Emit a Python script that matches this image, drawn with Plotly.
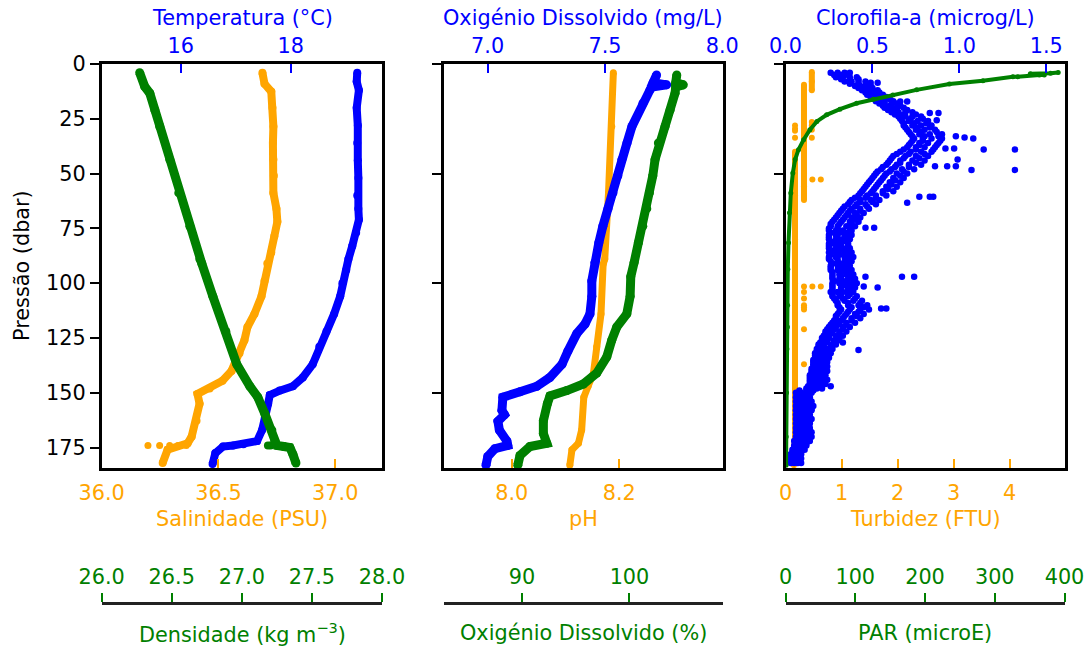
import plotly.graph_objects as go

FONT = "DejaVu Sans"
FS = 20.8
BLUE = "#0000ff"
ORANGE = "#ffa500"
GREEN = "#008000"
INK = "#000000"
W, H = 1092, 650

# ---------------- Panel 1: temperature / salinity / density ----------------
temp_p = [4, 8, 12, 20, 28, 36, 44, 52, 60, 66, 71, 77, 83, 89, 94, 100, 106, 114,
          122, 129, 137, 143, 147, 149, 151, 155, 161, 167, 172, 173.5, 174, 174.5,
          177.5, 182.5]
temp_c = [19.21, 19.20, 19.24, 19.20, 19.22, 19.21, 19.22, 19.23, 19.21, 19.23, 19.24,
          19.19, 19.12, 19.05, 19.01, 18.94, 18.90, 18.79, 18.65, 18.52, 18.40, 18.22,
          18.04, 17.80, 17.62, 17.59, 17.53, 17.48, 17.39, 17.14, 16.95, 16.77, 16.63,
          16.58]

sal_p = [4, 9, 12.6, 20, 28.5, 36, 43.6, 51, 58.8, 66, 72, 78.6, 86, 91, 99, 106, 114,
         120, 126, 132, 140, 144.5, 148, 150.5, 155, 162.7, 170, 173, 176, 182]
sal_psu = [36.688, 36.697, 36.726, 36.731, 36.735, 36.733, 36.735, 36.737, 36.735,
           36.748, 36.752, 36.739, 36.726, 36.709, 36.697, 36.684, 36.654, 36.624,
           36.611, 36.590, 36.556, 36.517, 36.462, 36.410, 36.419, 36.406, 36.385,
           36.368, 36.282, 36.261]
sal_loose_p = [174, 174, 174, 174, 174]
sal_loose = [36.198, 36.248, 36.291, 36.326, 36.362]

dens_p = [4, 10.3, 13.3, 21, 28.5, 43.6, 58.8, 74, 89, 91, 106, 122, 137, 147, 152,
          159.5, 167, 172, 174, 174.5, 175, 178, 182]
dens = [26.271, 26.307, 26.343, 26.379, 26.414, 26.486, 26.550, 26.629, 26.700,
        26.714, 26.793, 26.886, 26.964, 27.057, 27.114, 27.164, 27.214, 27.235,
        27.250, 27.300, 27.343, 27.364, 27.386]
dens_loose_p = [174, 174]
dens_loose = [27.186, 27.205]

# ---------------- Panel 2: dissolved oxygen / pH ----------------
od_p = [5, 8.5, 9.5, 10.5, 11.8, 17.9, 28.5, 36, 43.6, 51, 58.8, 66, 74, 81.5, 90.6,
        99, 106, 114, 118.6, 123, 131, 137, 143, 147, 149.5, 152, 158, 160, 163, 167,
        172, 174, 175.5, 179, 183]
od_mgl = [7.720, 7.705, 7.763, 7.700, 7.692, 7.662, 7.615, 7.594, 7.572, 7.555, 7.534,
          7.513, 7.491, 7.474, 7.457, 7.444, 7.444, 7.436, 7.415, 7.380, 7.342, 7.317,
          7.265, 7.210, 7.138, 7.065, 7.061, 7.072, 7.044, 7.050, 7.082, 7.086, 7.031,
          7.001, 6.993]

ph_p = [4, 28.5, 58.8, 89, 91.4, 114, 129, 141, 147, 152, 167, 173, 176, 183]
ph = [8.189, 8.186, 8.180, 8.173, 8.170, 8.166, 8.158, 8.152, 8.142, 8.134, 8.130,
      8.124, 8.112, 8.108]

odsat_p = [5, 8.5, 9.5, 10.5, 13.3, 21, 28.5, 36, 43.6, 51, 58.8, 66, 74, 81.5, 90.6,
           97, 106, 114, 120, 126, 133.6, 141, 146, 149, 151.4, 155, 162.7, 168.6, 173,
           174.5, 178.6, 183]
odsat = [104.40, 104.30, 105.01, 104.30, 104.24, 103.78, 103.31, 102.69, 102.38,
         102.17, 101.85, 101.61, 101.24, 100.83, 100.43, 100.12, 100.06, 99.75, 98.82,
         98.35, 97.89, 96.96, 95.71, 94.17, 92.61, 92.36, 91.99, 91.99, 92.31, 90.75,
         89.82, 89.61]

# ---------------- Panel 3: chlorophyll / turbidity / PAR ----------------
# pressure, then chlorophyll readings across the cloud at that pressure
chl_rows = [
    (4, .26, .30, .34, .37), (6, .29, .33, .37, .41), (8, .34, .38, .42, .46),
    (10, .40, .43, .46, .49), (12, .44, .47, .50, .53), (14, .47, .50, .53, .56),
    (16, .51, .54, .57, .60), (18, .54, .57, .61, .64), (20, .57, .61, .64, .68),
    (22, .61, .65, .69, .73), (24, .65, .69, .73, .78), (26, .67, .71, .76, .82),
    (28, .68, .73, .78, .84), (30, .70, .75, .80, .86), (32, .72, .77, .83, .90),
    (34, .74, .79, .84, .90), (36, .72, .77, .82, .88), (38, .70, .75, .80, .86),
    (40, .66, .72, .78, .84), (42, .62, .69, .75, .82), (44, .60, .66, .73, .80),
    (46, .58, .64, .71, .78), (48, .55, .61, .67, .74), (50, .52, .58, .64, .70),
    (52, .50, .56, .62, .68), (54, .48, .54, .60, .66), (56, .46, .52, .58, .64),
    (58, .44, .50, .56, .62), (60, .42, .47, .52, .58), (62, .38, .43, .49, .54),
    (64, .36, .41, .46, .52), (66, .33, .38, .43, .48), (68, .31, .36, .40, .45),
    (70, .29, .34, .38, .43), (72, .27, .32, .37, .42), (74, .26, .30, .35, .40),
    (76, .25, .29, .33, .38), (78, .25, .29, .34, .38), (80, .25, .29, .33, .37),
    (82, .25, .28, .32, .36), (84, .25, .29, .33, .37), (86, .25, .29, .34, .38),
    (88, .25, .29, .34, .39), (90, .26, .30, .34, .38), (92, .26, .30, .34, .37),
    (94, .26, .30, .34, .38), (96, .27, .31, .35, .39), (98, .27, .31, .36, .40),
    (100, .27, .31, .36, .41), (102, .27, .32, .36, .40), (104, .26, .30, .35, .39),
    (106, .27, .31, .36, .41), (108, .29, .34, .39, .44), (110, .30, .36, .42, .47),
    (112, .32, .37, .43, .48), (114, .30, .35, .40, .45), (116, .29, .33, .38, .43),
    (118, .27, .31, .35, .40), (120, .25, .29, .33, .37), (122, .23, .27, .31, .35),
    (124, .22, .25, .29, .33), (126, .21, .24, .28, .31), (128, .19, .22, .26, .29),
    (130, .18, .21, .24, .27), (132, .17, .20, .23, .26), (134, .17, .19, .22, .25),
    (136, .16, .19, .22, .24), (138, .16, .18, .21, .24), (140, .15, .18, .21, .24),
    (142, .14, .17, .20, .23), (144, .14, .17, .20, .24), (146, .14, .17, .20, .23),
    (148, .12, .15, .18, .21), (150, .06, .09, .12, .15), (152, .06, .09, .12, .14),
    (154, .06, .09, .12, .15), (156, .06, .09, .12, .16), (158, .06, .09, .12, .15),
    (160, .06, .08, .11, .14), (162, .06, .09, .12, .15), (164, .06, .09, .12, .14),
    (166, .06, .09, .11, .14), (168, .06, .09, .12, .15), (170, .06, .09, .12, .15),
    (172, .05, .08, .11, .14), (174, .05, .07, .10, .12), (176, .04, .06, .08, .11),
    (178, .03, .05, .07, .09), (180, .03, .05, .07, .09), (182, .03, .05, .07, .09),
    (5, .28, .32, .36), (7, .32, .37, .42), (9, .37, .42, .47), (11, .42, .46, .50),
    (13, .46, .50, .54), (15, .49, .53, .58), (17, .52, .57, .62), (19, .56, .60, .66),
    (21, .59, .64, .70), (23, .63, .68, .75), (25, .66, .72, .79), (27, .68, .74, .81),
    (29, .69, .76, .83), (31, .71, .78, .87), (33, .73, .80, .88), (35, .73, .79, .89),
    (37, .71, .77, .87), (39, .68, .75, .85), (41, .64, .71, .80), (43, .61, .68, .77),
    (45, .59, .66, .75), (47, .56, .63, .71), (49, .53, .60, .68), (51, .51, .57, .66),
    (53, .49, .55, .63), (55, .47, .53, .61), (57, .45, .51, .59), (59, .43, .49, .56),
    (61, .40, .46, .52), (63, .37, .43, .50), (65, .34, .40, .47), (67, .32, .37, .43),
    (69, .30, .35, .41), (71, .28, .33, .40), (73, .26, .31, .38), (75, .25, .30, .37),
    (77, .26, .31, .36), (79, .25, .30, .35), (81, .26, .30, .35), (83, .25, .30, .36),
    (85, .26, .31, .36), (87, .26, .31, .37), (89, .25, .30, .36), (91, .27, .31, .36),
    (93, .26, .31, .36), (95, .27, .32, .37), (97, .27, .32, .38), (99, .28, .33, .39),
    (101, .27, .33, .39), (103, .27, .32, .38), (105, .27, .32, .37), (107, .28, .33, .40),
    (109, .30, .36, .43), (111, .31, .38, .45), (113, .31, .36, .42), (115, .29, .34, .41),
    (117, .28, .32, .38), (119, .26, .30, .35), (121, .24, .28, .33), (123, .23, .26, .31),
    (125, .21, .25, .30), (127, .20, .23, .28), (129, .19, .22, .26), (131, .18, .21, .25),
    (133, .17, .20, .24), (135, .16, .19, .23), (137, .16, .19, .23), (139, .15, .19, .22),
    (141, .15, .18, .22), (143, .14, .18, .22), (145, .14, .17, .21), (147, .13, .16, .20),
    (149, .08, .12, .16), (151, .07, .10, .13), (153, .07, .10, .14), (155, .07, .11, .14),
    (157, .07, .10, .15), (159, .07, .10, .13), (161, .07, .10, .13), (163, .07, .10, .14),
    (165, .07, .10, .13), (167, .07, .10, .14), (169, .07, .10, .13), (171, .07, .10, .13),
    (173, .06, .09, .12), (175, .05, .07, .10), (177, .04, .06, .09), (179, .03, .05, .08),
    (181, .04, .06, .08),
]
chl_out_p = [8.6, 8.6, 17.1, 17.1, 22.4, 22.4, 25.7, 33, 33.5, 34, 38.6, 38.6, 39, 39,
             43.6, 46.6, 46.6, 46.6, 48.3, 48.3, 60.6, 60.6, 60.6, 63.3, 74.7, 74.7,
             97, 97, 97, 101.5, 102, 111.5, 111.5, 127, 130.5, 147]
chl_out = [.49, .53, .66, .70, .83, .88, .87, .98, 1.03, 1.08, .92, .97, 1.14, 1.32,
           .99, .86, .93, .98, 1.07, 1.32, .77, .83, .85, .70, .46, .51, .46, .67, .74,
           .45, .53, .55, .58, .33, .42, .26]

# turbidity: continuous columns (None separates them) and loose readings
turb_p = [40, 60, 80, 100, 120, 140, 150, 160, 170, 176, 183, None,
          9.5, 20, 35, 50, 62, None,
          3.6, 8, 12]
turb = [0.17, 0.17, 0.17, 0.17, 0.17, 0.17, 0.17, 0.19, 0.17, 0.15, 0.15, None,
        0.33, 0.33, 0.33, 0.33, 0.33, None,
        0.47, 0.47, 0.47]
turb_loose_p = [28, 29.5, 30.5, 33.6, 26.5, 28, 30, 33.6, 52.7, 52.7, 55.8, 59.6, 61,
                101.5, 101.5, 101.5, 104, 107, 110, 111, 112, 121, 137]
turb_loose = [0.17, 0.17, 0.17, 0.17, 0.47, 0.47, 0.47, 0.47, 0.48, 0.63, 0.33, 0.33,
              0.33, 0.33, 0.48, 0.63, 0.33, 0.33, 0.33, 0.33, 0.33, 0.33, 0.33]

par_p = [3.9, 4.2, 4.5, 5.0, 5.0, 5.8, 5.8, 7.6, 9.1, 11.8, 14.1, 16.1, 17.9, 20.6,
         23.2, 26.2, 30, 34.5, 39.1, 43.6, 49.7, 58.8, 67.9, 81.5, 93.6, 110, 120,
         130, 150, 170, 183]
par = [391, 380, 351, 371, 364, 333, 326, 283, 235, 188, 154, 126, 102, 78, 59, 45,
       35, 26, 18.6, 13.8, 10.5, 7.6, 5.7, 4.3, 3.3, 3.0, 2.8, 2.0, 1.5, 1.0, 0.8]

# axis ranges
press_range = [184.3, 0]
sal_range, temp_range, dens_range = [36.0, 37.2], [14.564, 19.66], [26.0, 28.0]
ph_range, od_range, odsat_range = [7.873, 8.393], [6.812, 8.003], [82.7, 108.7]
turb_range, chl_range, par_range = [0, 4.98], [0, 1.605], [0, 400]

# ----------------------------------------------------------------------------
fig = go.Figure()


def prof(x, y, color, xa, ya, width=9, size=9, mode="lines+markers"):
    fig.add_trace(go.Scatter(
        x=x, y=y, mode=mode, xaxis=xa, yaxis=ya, showlegend=False,
        line=dict(color=color, width=width),
        marker=dict(color=color, size=size, line=dict(width=0)),
        connectgaps=False, hoverinfo="skip"))


# panel 1
prof(sal_psu, sal_p, ORANGE, "x", "y", width=8, size=8)
prof(sal_loose, sal_loose_p, ORANGE, "x", "y", size=7, mode="markers")
prof(temp_c, temp_p, BLUE, "x2", "y", width=8, size=8)
prof(dens, dens_p, GREEN, "x3", "y", width=9, size=9)
prof(dens_loose, dens_loose_p, GREEN, "x3", "y", size=8, mode="markers")

# panel 2
prof(ph, ph_p, ORANGE, "x4", "y2", width=7, size=7)
prof(od_mgl, od_p, BLUE, "x5", "y2", width=9, size=9)
prof(odsat, odsat_p, GREEN, "x6", "y2", width=9, size=9)

# panel 3
prof(turb, turb_p, ORANGE, "x7", "y3", width=6, size=6)
prof(turb_loose, turb_loose_p, ORANGE, "x7", "y3", size=6, mode="markers")
chl_x, chl_y = [], []
for row in chl_rows:
    for v in row[1:]:
        chl_x.append(v)
        chl_y.append(row[0])
chl_x += chl_out
chl_y += chl_out_p
prof(chl_x, chl_y, BLUE, "x8", "y3", size=6.5, mode="markers")
prof(par, par_p, GREEN, "x9", "y3", width=4, size=5)

tfont = dict(family=FONT, size=FS, color=INK)
ydom = [1 - 468 / H, 1 - 64 / H]
green_pos = 1 - 603 / H
doms = [[101.7 / W, 382 / W], [443.5 / W, 723 / W], [785.5 / W, 1064.5 / W]]


def base_x(dom, rng, dtick, anchor, fmt=None):
    d = dict(domain=dom, range=rng, anchor=anchor, side="bottom", automargin=False,
             showline=True, linecolor=INK, linewidth=2.5, mirror=True,
             ticks="inside", ticklen=9, tickwidth=2, tickcolor=ORANGE,
             tick0=0, dtick=dtick, showgrid=False, zeroline=False,
             tickfont=dict(family=FONT, size=FS, color=ORANGE),
             ticklabelstandoff=4)
    if fmt:
        d["tickformat"] = fmt
    return d


def top_x(rng, dtick, over, anchor, fmt=None):
    d = dict(range=rng, overlaying=over, anchor=anchor, side="top", automargin=False,
             showline=False, ticks="inside", ticklen=9, tickwidth=2,
             tickcolor=BLUE, tick0=0, dtick=dtick, showgrid=False,
             zeroline=False, tickfont=dict(family=FONT, size=FS, color=BLUE),
             ticklabelstandoff=6)
    if fmt:
        d["tickformat"] = fmt
    return d


def green_x(rng, dtick, over, fmt=None):
    d = dict(range=rng, overlaying=over, anchor="free", position=green_pos,
             side="top", automargin=False, showline=True, linecolor="#222222",
             linewidth=2.5, ticks="outside", ticklen=9, tickwidth=2,
             tickcolor=GREEN, tick0=0, dtick=dtick, showgrid=False,
             zeroline=False, tickfont=dict(family=FONT, size=FS, color=GREEN),
             ticklabelstandoff=1)
    if fmt:
        d["tickformat"] = fmt
    return d


def y_ax(anchor, vals, labels):
    return dict(domain=ydom, range=press_range, anchor=anchor, automargin=False,
                showline=True, linecolor=INK, linewidth=2.5, mirror=True,
                ticks="outside", ticklen=9, tickwidth=2, tickcolor=INK,
                tickvals=vals, showticklabels=labels, showgrid=False,
                zeroline=False, tickfont=tfont)


fig.update_layout(
    width=W, height=H, margin=dict(l=0, r=0, t=0, b=0, pad=0, autoexpand=False),
    paper_bgcolor="white", plot_bgcolor="white",
    xaxis=base_x(doms[0], sal_range, 0.5, "y", fmt=".1f"),
    xaxis2=top_x(temp_range, 2, "x", "y"),
    xaxis3=green_x(dens_range, 0.5, "x", fmt=".1f"),
    xaxis4=base_x(doms[1], ph_range, 0.2, "y2", fmt=".1f"),
    xaxis5=top_x(od_range, 0.5, "x4", "y2", fmt=".1f"),
    xaxis6=green_x(odsat_range, 10, "x4"),
    xaxis7=base_x(doms[2], turb_range, 1, "y3"),
    xaxis8=top_x(chl_range, 0.5, "x7", "y3", fmt=".1f"),
    xaxis9=green_x(par_range, 100, "x7"),
    yaxis=y_ax("x", [0, 25, 50, 75, 100, 125, 150, 175], True),
    yaxis2=y_ax("x4", [0, 50, 100, 150], False),
    yaxis3=y_ax("x7", [0, 50, 100, 150], False),
)


def label(text, xpx, ypx, color, angle=0):
    fig.add_annotation(text=text, x=xpx / W, y=1 - ypx / H, xref="paper",
                       yref="paper", showarrow=False, textangle=angle,
                       xanchor="center", yanchor="middle",
                       font=dict(family=FONT, size=FS, color=color))


label("Temperatura (°C)", 242, 18, BLUE)
label("Oxigénio Dissolvido (mg/L)", 583, 18, BLUE)
label("Clorofila-a (microg/L)", 925, 18, BLUE)
label("Salinidade (PSU)", 242, 519, ORANGE)
label("pH", 583, 519, ORANGE)
label("Turbidez (FTU)", 925, 519, ORANGE)
label("Densidade (kg m<sup>−3</sup>)", 242, 633, GREEN)
label("Oxigénio Dissolvido (%)", 583, 633, GREEN)
label("PAR (microE)", 925, 633, GREEN)
label("Pressão (dbar)", 22, 266, INK, angle=-90)

fig.write_html("out.html")
